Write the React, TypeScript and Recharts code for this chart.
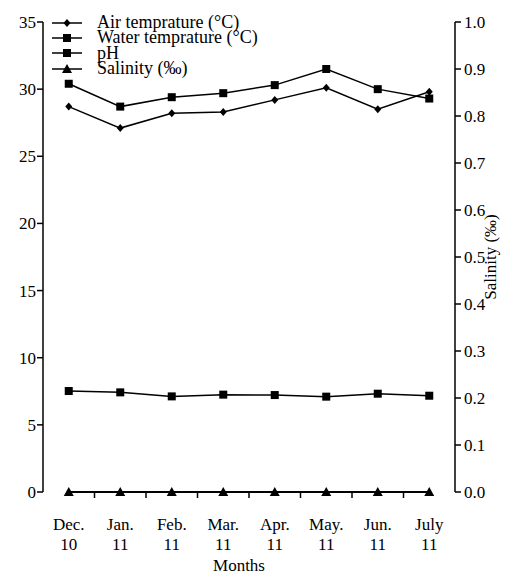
import React from 'react';
import { ComposedChart, Line, XAxis, YAxis, Legend } from 'recharts';

const months = ['Dec. 10', 'Jan. 11', 'Feb. 11', 'Mar. 11', 'Apr. 11', 'May. 11', 'Jun. 11', 'July 11'];
const airTemp = [28.7, 27.1, 28.2, 28.3, 29.2, 30.1, 28.5, 29.8];
const waterTemp = [30.4, 28.7, 29.4, 29.7, 30.3, 31.5, 30.0, 29.3];
const pH = [7.52, 7.42, 7.12, 7.25, 7.22, 7.1, 7.32, 7.17];
const salinity = [0, 0, 0, 0, 0, 0, 0, 0];
const leftTicks = [0, 5, 10, 15, 20, 25, 30, 35];
const rightTicks = [0, 0.1, 0.2, 0.3, 0.4, 0.5, 0.6, 0.7, 0.8, 0.9, 1.0];
const boundaryTicks = [1, 2, 3, 4, 5, 6, 7];

const data = months.map((m, i) => ({
  month: m,
  air: airTemp[i],
  water: waterTemp[i],
  ph: pH[i],
  sal: salinity[i],
}));

const FONT = '"Liberation Serif", "Times New Roman", serif';
const CHART_W = 497;
const CHART_H = 566;
const LEFT_W = 35;
const RIGHT_W = 50;
const HALF_BAND = (CHART_W - LEFT_W - RIGHT_W) / months.length / 2;

const Diamond = ({ cx, cy }: any) => (
  <path d={`M${cx},${cy - 4}L${cx + 3.5},${cy}L${cx},${cy + 4}L${cx - 3.5},${cy}Z`} fill="#000" />
);
const Square = ({ cx, cy }: any) => <rect x={cx - 4} y={cy - 4} width={8} height={8} fill="#000" />;
const Triangle = ({ cx, cy }: any) => (
  <path d={`M${cx},${cy - 5}L${cx + 5},${cy + 4}L${cx - 5},${cy + 4}Z`} fill="#000" />
);

const legendItems = [
  { name: 'Air temprature (°C)', shape: 'diamond' },
  { name: 'Water temprature (°C)', shape: 'square' },
  { name: 'pH', shape: 'square' },
  { name: 'Salinity (‰)', shape: 'triangle' },
];

const LegendContent = () => (
  <div style={{ fontFamily: FONT, fontSize: 18, color: '#000' }}>
    {legendItems.map((it) => (
      <div key={it.name} style={{ display: 'flex', alignItems: 'center', height: 15.4, lineHeight: '15.4px', whiteSpace: 'nowrap' }}>
        <svg width={30} height={12} style={{ marginRight: 15, overflow: 'visible' }}>
          <line x1={0} y1={6} x2={30} y2={6} stroke="#000" strokeWidth={1.5} />
          {it.shape === 'diamond' && <Diamond cx={15} cy={6} />}
          {it.shape === 'square' && <Square cx={15} cy={6} />}
          {it.shape === 'triangle' && <Triangle cx={15} cy={6} />}
        </svg>
        <span>{it.name}</span>
      </div>
    ))}
  </div>
);

const MonthTick = (props: any) => {
  const { x, y, payload } = props;
  const [a, b] = String(payload.value).split(' ');
  const isFirst = months.indexOf(String(payload.value)) === 0;
  return (
    <g>
      {!isFirst && <line x1={x - HALF_BAND} y1={y} x2={x - HALF_BAND} y2={y + 6} stroke="#000" strokeWidth={1.5} />}
      <text x={x} y={y + 38} textAnchor="middle" fontFamily={FONT} fontSize={17} fill="#000">{a}</text>
      <text x={x} y={y + 58} textAnchor="middle" fontFamily={FONT} fontSize={17} fill="#000">{b}</text>
    </g>
  );
};

const LeftTick = (props: any) => {
  const { x, y, payload } = props;
  return (
    <text x={x} y={y} dy={6} textAnchor="end" fontFamily={FONT} fontSize={17} fill="#000">{payload.value}</text>
  );
};

const RightTick = (props: any) => {
  const { x, y, payload } = props;
  return (
    <text x={x} y={y} dy={6} textAnchor="start" fontFamily={FONT} fontSize={17} fill="#000">{Number(payload.value).toFixed(1)}</text>
  );
};

export default function App() {
  return (
    <ComposedChart width={CHART_W} height={CHART_H} data={data} margin={{ top: 14, right: 0, left: 0, bottom: 0 }}>
      <XAxis
        xAxisId="bounds"
        type="number"
        domain={[0, months.length]}
        allowDataOverflow
        ticks={boundaryTicks}
        interval={0}
        height={0}
        axisLine={false}
        tick={false}
        tickSize={6}
        tickLine={{ stroke: '#000', strokeWidth: 1.5 }}
      />
      <XAxis
        dataKey="month"
        scale="band"
        height={82}
        axisLine={false}
        tickLine={false}
        tickSize={0}
        tickMargin={0}
        tick={<MonthTick />}
        interval={0}
        label={{ value: 'Months', position: 'insideBottom', offset: 3, dx: -10, style: { fontFamily: FONT, fontSize: 17, fill: '#000' } }}
      />
      <YAxis
        yAxisId="left"
        width={LEFT_W}
        domain={[0, 35]}
        ticks={leftTicks}
        interval={0}
        axisLine={{ stroke: '#000', strokeWidth: 1.5 }}
        tickLine={{ stroke: '#000', strokeWidth: 1.5 }}
        tickSize={6}
        tickMargin={1}
        tick={<LeftTick />}
      />
      <YAxis
        yAxisId="right"
        orientation="right"
        width={RIGHT_W}
        domain={[0, 1]}
        ticks={rightTicks}
        interval={0}
        axisLine={{ stroke: '#000', strokeWidth: 1.5 }}
        tickLine={{ stroke: '#000', strokeWidth: 1.5 }}
        tickSize={6}
        tickMargin={3}
        tick={<RightTick />}
        label={{ value: 'Salinity (‰)', angle: -90, position: 'center', dx: 10, style: { fontFamily: FONT, fontSize: 17, fill: '#000' } }}
      />
      <Legend
        layout="vertical"
        align="center"
        verticalAlign="middle"
        wrapperStyle={{ left: 44, top: 7, width: 'auto' }}
        content={<LegendContent />}
      />
      <Line yAxisId="left" dataKey="air" stroke="#000" strokeWidth={1.5} dot={<Diamond />} isAnimationActive={false} />
      <Line yAxisId="left" dataKey="water" stroke="#000" strokeWidth={1.5} dot={<Square />} isAnimationActive={false} />
      <Line yAxisId="left" dataKey="ph" stroke="#000" strokeWidth={1.5} dot={<Square />} isAnimationActive={false} />
      <Line yAxisId="right" dataKey="sal" stroke="#000" strokeWidth={2} dot={<Triangle />} isAnimationActive={false} />
    </ComposedChart>
  );
}
